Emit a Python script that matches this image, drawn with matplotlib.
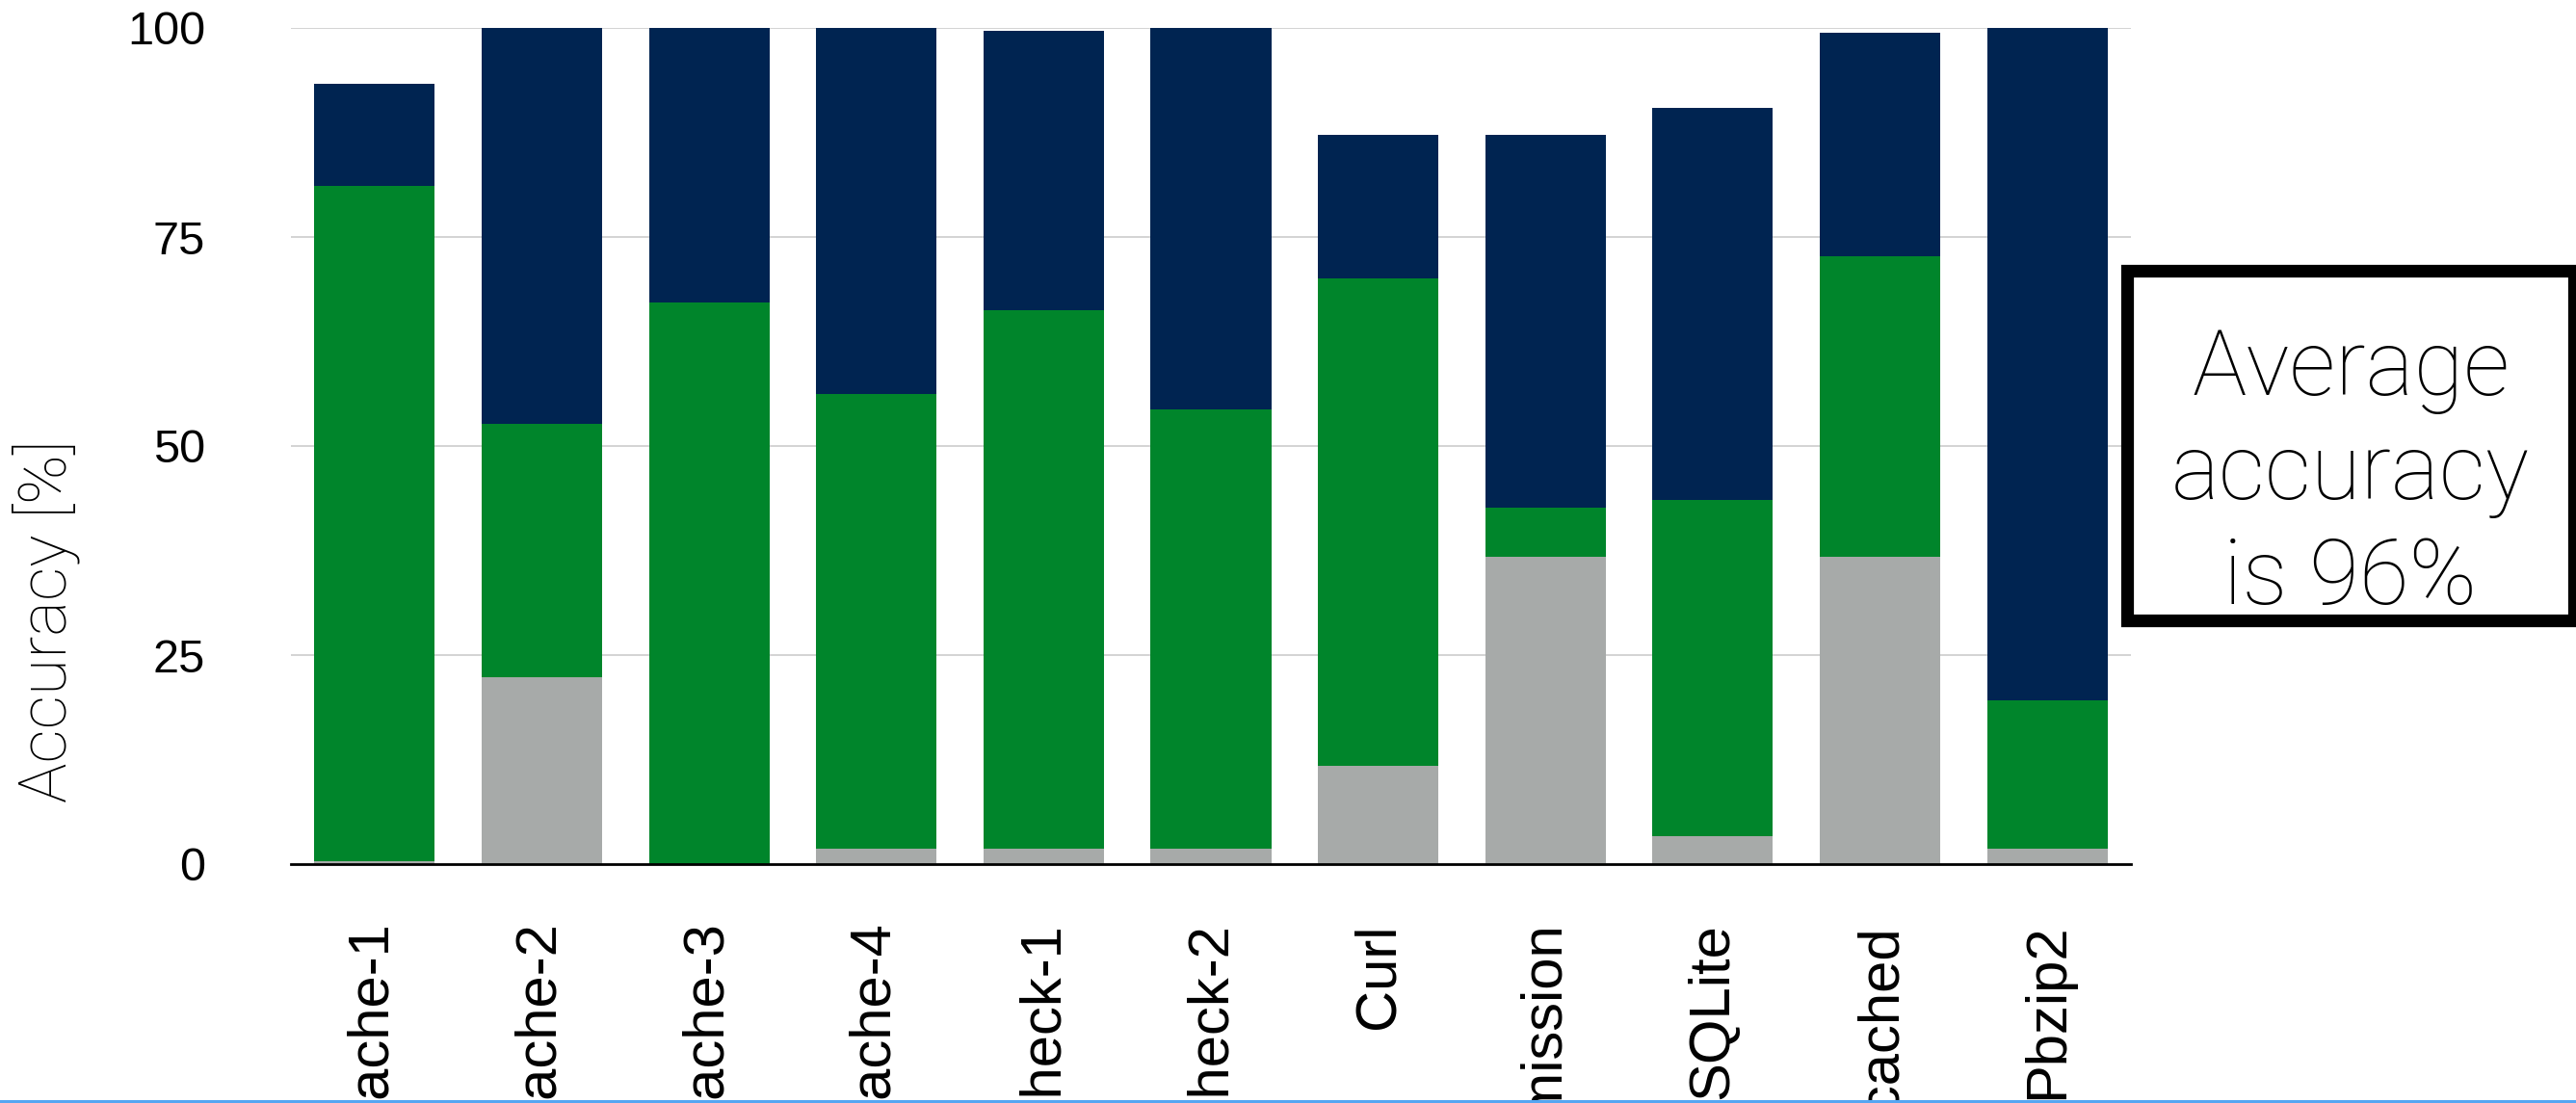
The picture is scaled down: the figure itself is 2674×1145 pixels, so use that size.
import matplotlib.pyplot as plt
from matplotlib.patches import Rectangle
import numpy as np

# benchmark names (the reference crops them at the bottom)
apps = ["Apache-1", "Apache-2", "Apache-3", "Apache-4", "Cppcheck-1", "Cppcheck-2",
        "Curl", "Transmission", "SQLite", "Memcached", "Pbzip2"]

# stacked segment heights (percent)
gray_part = [0.4, 22.4, 0.0, 1.8, 1.8, 1.8, 11.8, 36.7, 3.3, 36.7, 1.8]
green_top = [81.1, 52.7, 67.2, 56.2, 66.2, 54.4, 70.1, 42.6, 43.6, 72.7, 19.6]
total_top = [93.3, 100.0, 100.0, 100.0, 99.6, 100.0, 87.2, 87.2, 90.4, 99.4, 100.0]

yticks = [0, 25, 50, 75, 100]

W, H, DPI = 2674, 1145, 100
fig = plt.figure(figsize=(W / DPI, H / DPI), dpi=DPI)

# axes placed by pixel measurements of the reference
left, right, top, bottom = 302, 2212, 29, 897
ax = fig.add_axes([left / W, 1 - bottom / H, (right - left) / W, (bottom - top) / H])

x = np.arange(len(apps))
gray = np.array(gray_part)
green = np.array(green_top) - gray
navy = np.array(total_top) - np.array(green_top)

w = 0.72
ax.bar(x, gray, w, color="#a7aaa9", zorder=2)
ax.bar(x, green, w, bottom=gray, color="#00852b", zorder=2)
ax.bar(x, navy, w, bottom=gray + green, color="#002451", zorder=2)

ax.set_xlim(-0.5, len(apps) - 0.5)
ax.set_ylim(0, 100)
ax.set_yticks(yticks)
ax.yaxis.grid(True, color="#cccccc", linewidth=1.2, zorder=0)
ax.set_axisbelow(True)

for s in ["left", "right", "top"]:
    ax.spines[s].set_visible(False)
ax.spines["bottom"].set_linewidth(2)
ax.spines["bottom"].set_color("black")
ax.spines["bottom"].set_zorder(3)

ax.tick_params(axis="both", length=0)
ax.tick_params(axis="y", pad=64)
ax.tick_params(axis="x", pad=44)
ax.set_yticklabels([str(t) for t in yticks], fontsize=35, family="Liberation Sans")
ax.set_xticks(x)
ax.set_xticklabels(apps, rotation=90, fontsize=43, family="Liberation Sans",
                   va="top", ha="center")

fig.text(48 / W, 1 - 645 / H, "Accuracy [%]", rotation=90, ha="center", va="center",
         fontsize=50, family="Roboto", weight="light", color="black")

# boxed annotation on the right
bx0, bx1, by0, by1 = 2208, 2672, 281, 644
fig.patches.append(Rectangle((bx0 / W, 1 - by1 / H), (bx1 - bx0) / W, (by1 - by0) / H,
                             transform=fig.transFigure, facecolor="white",
                             edgecolor="black", linewidth=9.5, zorder=5))
fig.text((bx0 + bx1) / 2 / W, 1 - 493 / H, "Average\naccuracy\nis 96%",
         ha="center", va="center", multialignment="center", fontsize=68,
         family="Roboto", weight="light", linespacing=1.24, zorder=6)

# thin blue strip along the bottom edge of the screenshot
fig.patches.append(Rectangle((0, 0), 1, 3 / H, transform=fig.transFigure,
                             facecolor="#55a6f2", edgecolor="none", zorder=7))

fig.savefig("out.png", dpi=DPI)
